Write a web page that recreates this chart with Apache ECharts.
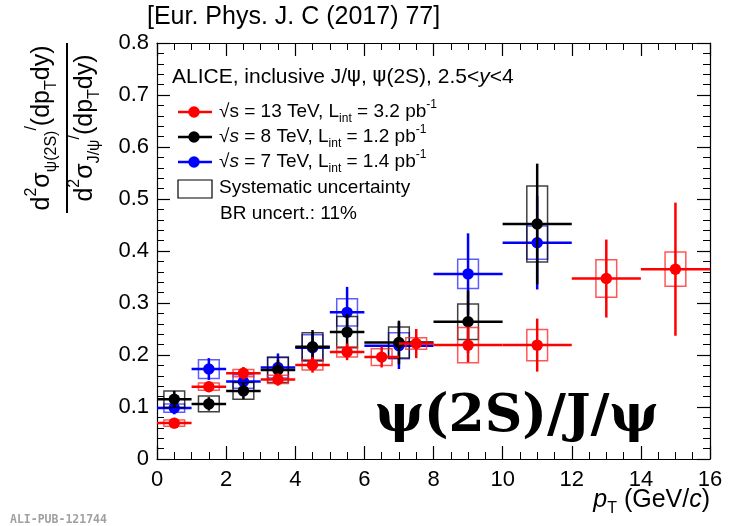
<!DOCTYPE html>
<html>
<head>
<meta charset="utf-8">
<script src="https://cdn.jsdelivr.net/npm/echarts@6/dist/echarts.min.js"></script>
<style>html,body{margin:0;padding:0;background:#fff}#c{width:734px;height:526px}</style>
</head>
<body>
<div id="c"></div>
<script>
// ---- data ----
const xTicks = [0, 2, 4, 6, 8, 10, 12, 14, 16];
const yTicks = [0, 0.1, 0.2, 0.3, 0.4, 0.5, 0.6, 0.7, 0.8];

// 13 TeV (red)
const redX    = [0.5, 1.5, 2.5, 3.5, 4.5, 5.5, 6.5, 7.5, 9, 11, 13, 15];
const redXLo  = [0, 1, 2, 3, 4, 5, 6, 7, 8, 10, 12, 14];
const redXHi  = [1, 2, 3, 4, 5, 6, 7, 8, 10, 12, 14, 16];
const redY    = [0.069, 0.139, 0.165, 0.153, 0.181, 0.206, 0.196, 0.222, 0.219, 0.219, 0.347, 0.365];
const redStat = [0.010, 0.010, 0.012, 0.012, 0.015, 0.016, 0.020, 0.028, 0.033, 0.051, 0.075, 0.128];
const redSys  = [0.006, 0.007, 0.007, 0.008, 0.010, 0.010, 0.016, 0.011, 0.034, 0.030, 0.036, 0.033];

// 8 TeV (black)
const blackX    = [0.5, 1.5, 2.5, 3.5, 4.5, 5.5, 7, 9, 11];
const blackXLo  = [0, 1, 2, 3, 4, 5, 6, 8, 10];
const blackXHi  = [1, 2, 3, 4, 5, 6, 8, 10, 12];
const blackY    = [0.115, 0.106, 0.131, 0.171, 0.216, 0.244, 0.224, 0.264, 0.452];
const blackStat = [0.016, 0.013, 0.016, 0.020, 0.032, 0.035, 0.042, 0.060, 0.116];
const blackSys  = [0.016, 0.015, 0.016, 0.024, 0.027, 0.030, 0.030, 0.034, 0.073];

// 7 TeV (blue)
const blueX    = [0.5, 1.5, 2.5, 3.5, 4.5, 5.5, 7, 9, 11];
const blueXLo  = [0, 1, 2, 3, 4, 5, 6, 8, 10];
const blueXHi  = [1, 2, 3, 4, 5, 6, 8, 10, 12];
const blueY    = [0.098, 0.173, 0.149, 0.176, 0.214, 0.282, 0.218, 0.356, 0.416];
const blueStat = [0.012, 0.021, 0.015, 0.027, 0.030, 0.049, 0.045, 0.078, 0.090];
const blueSys  = [0.008, 0.018, 0.013, 0.020, 0.025, 0.026, 0.025, 0.028, 0.032];

// ---- rendering ----
const SANS = '"Liberation Sans", Arial, Helvetica, sans-serif';
const BOX_HALF = 0.3;

function makeSeries(name, color, boxColor, X, XLo, XHi, Y, Stat, Sys, z) {
  const data = X.map((x, i) => [x, Y[i], XLo[i], XHi[i], Stat[i], Sys[i]]);
  return {
    type: 'custom', name, data, z, clip: false,
    encode: { x: 0, y: 1 },
    renderItem(params, api) {
      const x = api.value(0), y = api.value(1), lo = api.value(2), hi = api.value(3);
      const st = api.value(4), sy = api.value(5);
      const c = api.coord([x, y]);
      const pl = api.coord([lo, y]), ph = api.coord([hi, y]);
      const pt = api.coord([x, y + st]), pb = api.coord([x, y - st]);
      const b1 = api.coord([x - BOX_HALF, y + sy]), b2 = api.coord([x + BOX_HALF, y - sy]);
      return {
        type: 'group',
        children: [
          { type: 'rect', shape: { x: b1[0], y: b1[1], width: b2[0] - b1[0], height: b2[1] - b1[1] },
            style: { fill: 'none', stroke: boxColor, lineWidth: 1.5 } },
          { type: 'line', shape: { x1: pl[0], y1: c[1], x2: ph[0], y2: c[1] },
            style: { stroke: color, lineWidth: 2.5 } },
          { type: 'line', shape: { x1: c[0], y1: pt[1], x2: c[0], y2: pb[1] },
            style: { stroke: color, lineWidth: 2.5 } },
          { type: 'circle', shape: { cx: c[0], cy: c[1], r: 5.7 }, style: { fill: color } }
        ]
      };
    }
  };
}

const axisCommon = {
  type: 'value',
  axisLine: { show: true, onZero: false, lineStyle: { color: '#000', width: 1.2 } },
  axisTick: { show: true, inside: true, length: 13, lineStyle: { color: '#000', width: 1.2 } },
  minorTick: { show: true, length: 7, lineStyle: { color: '#000', width: 1 } },
  splitLine: { show: false },
  minorSplitLine: { show: false }
};

const xMin = xTicks[0], xMax = xTicks[xTicks.length - 1];
const yMin = yTicks[0], yMax = yTicks[yTicks.length - 1];
const xInt = xTicks[1] - xTicks[0], yInt = yTicks[1] - yTicks[0];

const chart = echarts.init(document.getElementById('c'), null, { renderer: 'canvas' });

const LF = 19;
const tRich = {
  t: { fontSize: LF, fontFamily: SANS, color: '#000', lineHeight: 26, verticalAlign: 'middle' },
  i: { fontSize: LF, fontFamily: SANS, fontStyle: 'italic', color: '#000', lineHeight: 26, verticalAlign: 'middle' },
  sub: { fontSize: 12, fontFamily: SANS, color: '#000', lineHeight: 12, verticalAlign: 'bottom' },
  sup: { fontSize: 12, fontFamily: SANS, color: '#000', lineHeight: 12, verticalAlign: 'top' }
};
const hRich = {
  t: { fontSize: 21, fontFamily: SANS, color: '#000', lineHeight: 28, verticalAlign: 'middle' },
  i: { fontSize: 21, fontFamily: SANS, fontStyle: 'italic', color: '#000', lineHeight: 28, verticalAlign: 'middle' },
  g: { fontSize: 21, fontFamily: '"DejaVu Sans", sans-serif', color: '#000', lineHeight: 28, verticalAlign: 'middle' }
};
const yRich = {
  t: { fontSize: 25, fontFamily: SANS, color: '#000', lineHeight: 36, verticalAlign: 'middle' },
  sub: { fontSize: 16, fontFamily: SANS, color: '#000', lineHeight: 16, verticalAlign: 'bottom' },
  sup: { fontSize: 16, fontFamily: SANS, color: '#000', lineHeight: 16, verticalAlign: 'top' }
};
const xRich = {
  t: { fontSize: 25, fontFamily: SANS, color: '#000', lineHeight: 34, verticalAlign: 'middle' },
  i: { fontSize: 25, fontFamily: SANS, fontStyle: 'italic', color: '#000', lineHeight: 34, verticalAlign: 'middle' },
  sub: { fontSize: 16, fontFamily: SANS, color: '#000', lineHeight: 16, verticalAlign: 'bottom' }
};

function legendEntry(y, color) {
  return [
    { type: 'line', shape: { x1: 178, y1: y, x2: 212, y2: y }, style: { stroke: color, lineWidth: 2.5 } },
    { type: 'circle', shape: { cx: 194, cy: y, r: 5.7 }, style: { fill: color } }
  ];
}

const option = {
  animation: false,
  backgroundColor: '#fff',
  grid: { left: 157, right: 24, top: 43, bottom: 67, containLabel: false },
  xAxis: [
    Object.assign({}, axisCommon, {
      position: 'bottom', min: xMin, max: xMax, interval: xInt,
      minorTick: Object.assign({}, axisCommon.minorTick, { splitNumber: 4 }),
      axisLabel: { show: true, color: '#000', fontSize: 22, fontFamily: SANS, margin: 10,
        formatter: v => String(v) }
    }),
    Object.assign({}, axisCommon, {
      position: 'top', min: xMin, max: xMax, interval: xInt,
      minorTick: Object.assign({}, axisCommon.minorTick, { splitNumber: 4 }),
      axisLabel: { show: false }
    })
  ],
  yAxis: [
    Object.assign({}, axisCommon, {
      position: 'left', min: yMin, max: yMax, interval: yInt,
      minorTick: Object.assign({}, axisCommon.minorTick, { splitNumber: 5 }),
      axisLabel: { show: true, color: '#000', fontSize: 22, fontFamily: SANS, margin: 8,
        formatter: v => (Math.abs(v) < 1e-9 ? '0' : v.toFixed(1)) }
    }),
    Object.assign({}, axisCommon, {
      position: 'right', min: yMin, max: yMax, interval: yInt,
      minorTick: Object.assign({}, axisCommon.minorTick, { splitNumber: 5 }),
      axisLabel: { show: false }
    })
  ],
  series: [
    makeSeries('7 TeV', '#0000ff', 'rgba(40,40,255,0.75)', blueX, blueXLo, blueXHi, blueY, blueStat, blueSys, 2),
    makeSeries('8 TeV', '#000000', 'rgba(0,0,0,0.75)', blackX, blackXLo, blackXHi, blackY, blackStat, blackSys, 3),
    makeSeries('13 TeV', '#ff0000', 'rgba(255,30,30,0.75)', redX, redXLo, redXHi, redY, redStat, redSys, 4)
  ],
  graphic: [
    // header
    { type: 'text', x: 147, y: 17, style: { text: '[Eur. Phys. J. C (2017) 77]', font: '25px ' + SANS, fill: '#000', verticalAlign: 'middle' } },
    // legend
    { type: 'text', x: 172, y: 77, style: { text: '{t|ALICE, inclusive J/}{g|ψ}{t|, }{g|ψ}{t|(2S), 2.5<}{i|y}{t|<4}', rich: hRich, verticalAlign: 'middle' } },
    ...legendEntry(112, '#ff0000'),
    ...legendEntry(137, '#000000'),
    ...legendEntry(162, '#0000ff'),
    { type: 'text', x: 219, y: 112, style: { text: '{t|√s = 13 TeV, L}{sub|int}{t| = 3.2 pb}{sup|-1}', rich: tRich, verticalAlign: 'middle' } },
    { type: 'text', x: 219, y: 137, style: { text: '{t|√}{i|s}{t| = 8 TeV, L}{sub|int}{t| = 1.2 pb}{sup|-1}', rich: tRich, verticalAlign: 'middle' } },
    { type: 'text', x: 219, y: 162, style: { text: '{t|√}{i|s}{t| = 7 TeV, L}{sub|int}{t| = 1.4 pb}{sup|-1}', rich: tRich, verticalAlign: 'middle' } },
    { type: 'rect', shape: { x: 178, y: 180, width: 34, height: 18 }, style: { fill: 'none', stroke: '#000', lineWidth: 1.2 } },
    { type: 'text', x: 219, y: 188, style: { text: 'Systematic uncertainty', font: LF + 'px ' + SANS, fill: '#000', verticalAlign: 'middle' } },
    { type: 'text', x: 220, y: 214, style: { text: 'BR uncert.: 11%', font: LF + 'px ' + SANS, fill: '#000', verticalAlign: 'middle' } },
    // big label
    { type: 'text', x: 375, y: 417, style: { text: 'ψ(2S)/J/ψ', font: 'bold 52px "DejaVu Serif", "Liberation Serif", serif', fill: '#000', verticalAlign: 'middle' } },
    // y-axis title (fraction)
    { type: 'text', x: 42, y: 128, rotation: Math.PI / 2,
      style: { text: '{t|d}{sup|2}{t|σ}{sub|ψ(2S)}{sup|/}{t|(dp}{sub|T}{t|dy)}', rich: yRich, align: 'center', verticalAlign: 'middle' } },
    { type: 'line', shape: { x1: 67, y1: 43, x2: 67, y2: 213 }, style: { stroke: '#000', lineWidth: 2 } },
    { type: 'text', x: 85, y: 128, rotation: Math.PI / 2,
      style: { text: '{t|d}{sup|2}{t|σ}{sub|J/ψ}{sup|/}{t|(dp}{sub|T}{t|dy)}', rich: yRich, align: 'center', verticalAlign: 'middle' } },
    // x-axis title
    { type: 'text', x: 710, y: 500,
      style: { text: '{i|p}{sub|T}{t| (GeV/}{i|c}{t|)}', rich: xRich, align: 'right', verticalAlign: 'middle' } },
    // footer tag
    { type: 'text', x: 10, y: 520, style: { text: 'ALI-PUB-121744', font: 'bold 11.5px "DejaVu Sans Mono", "Liberation Mono", monospace', fill: '#a0a0a0', verticalAlign: 'middle' } }
  ]
};
chart.setOption(option);
</script>
</body>
</html>
